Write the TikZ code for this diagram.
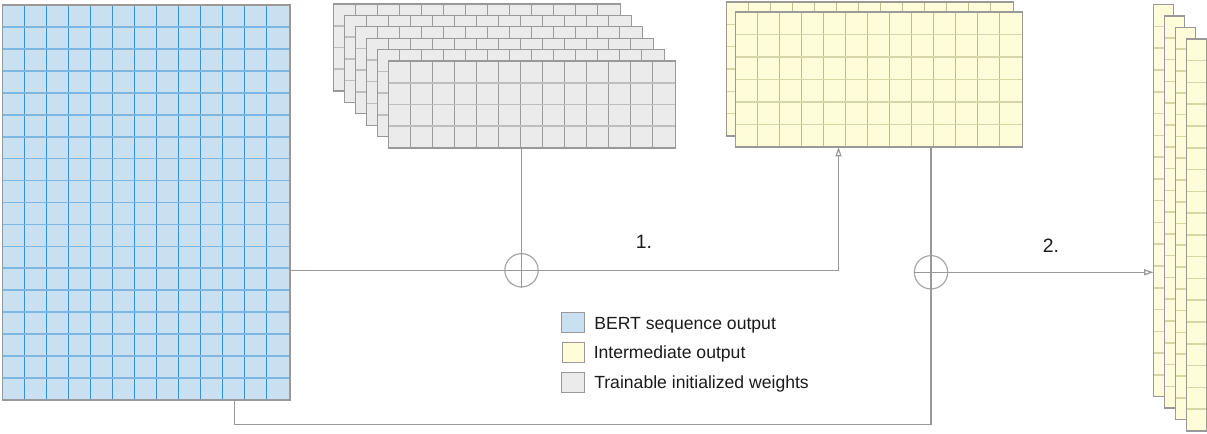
\documentclass[tikz,border=0pt]{standalone}
\usepackage{fontspec}
\setmainfont{Liberation Sans}
\usetikzlibrary{arrows.meta,calc}
\definecolor{bluefill}{HTML}{C9E0F1}
\definecolor{bluevl}{HTML}{3A90D6}
\definecolor{bluehl}{HTML}{7DB6E1}
\definecolor{grayfill}{HTML}{EBEBEB}
\definecolor{grayvl}{HTML}{9C9C9C}
\definecolor{grayhl}{HTML}{BEBEBE}
\definecolor{yelfill}{HTML}{FFFDD9}
\definecolor{yelvl}{HTML}{BDBD8E}
\definecolor{yelhl}{HTML}{D8D6A8}
\definecolor{bordercol}{HTML}{999999}
\definecolor{conncol}{HTML}{999999}
\definecolor{circcol}{HTML}{A6A6A6}
\definecolor{textcol}{HTML}{1A1A1A}
\tikzset{
  panel/.style={anchor=north west, inner sep=0pt, outer sep=0pt, draw=none},
  bluepanel/.style={fill=bluefill},
  bluev/.style={draw=bluevl, line width=0.8pt},
  blueh/.style={draw=bluehl, line width=1.3pt},
  graypanel/.style={fill=grayfill},
  grayv/.style={draw=grayvl, line width=0.8pt},
  grayh/.style={draw=grayhl, line width=1.2pt},
  yelpanel/.style={fill=yelfill},
  yelv/.style={draw=yelvl, line width=0.8pt},
  yelh/.style={draw=yelhl, line width=1.2pt},
  pborder/.style={draw=bordercol, line width=1pt},
  conn/.style={draw=conncol, line width=0.9pt},
  sumnode/.style={circle, draw=circcol, line width=0.9pt, minimum size=25pt, inner sep=0pt},
  arr/.style={-{Triangle[open, length=7pt, width=4.5pt]}},
  legbox/.style={anchor=north west, inner sep=0pt, minimum width=17pt, minimum height=15.5pt, draw=bordercol, line width=0.75pt},
  legtext/.style={anchor=base west, inner sep=0pt, text=textcol, font=\fontsize{13.2}{15}\selectfont},
  numlabel/.style={inner sep=0pt, text=textcol, font=\fontsize{14.5}{16}\selectfont},
}
% #1 name, #2 x, #3 y, #4 w, #5 h, #6 column pitch, #7 ncols, #8 nrows, #9 style prefix
\newcommand{\gridpanel}[9]{%
  \node[panel, #9panel, minimum width=#4*0.75pt, minimum height=#5*0.75pt] (#1) at (#2,#3) {};
  \pgfmathtruncatemacro\gpnc{#7-1}%
  \pgfmathtruncatemacro\gpnr{#8-1}%
  \ifnum\gpnc>0
    \foreach \gpi in {1,...,\gpnc}{\draw[#9v] (#2+\gpi*#6, #3) -- ++(0,#5);}
  \fi
  \ifnum\gpnr>0
    \foreach \gpj in {1,...,\gpnr}{\draw[#9h] (#2, #3+\gpj*#5/#8) -- ++(#4,0);}
  \fi
  \draw[pborder] (#1.north west) rectangle (#1.south east);
}
\begin{document}
\begin{tikzpicture}[x=0.75pt,y=-0.75pt]
\useasboundingbox (0,0) rectangle (1207,434);

% BERT sequence output
\gridpanel{blue}{2.5}{5}{287.5}{395}{22}{13}{18}{blue}

% trainable weights stack
\foreach \k in {0,...,5}{
  \gridpanel{gray\k}{333.5+11*\k}{4+11.4*\k}{287}{87}{22}{13}{4}{gray}
}

% intermediate output stack
\gridpanel{yel0}{726.5}{2}{287}{134}{22}{13}{6}{yel}
\gridpanel{yel1}{735.5}{12}{287}{135}{22}{13}{6}{yel}

% final output columns
\foreach \k in {0,...,3}{
  \gridpanel{col\k}{1153.5+11*\k}{4.7+11.4*\k}{20}{392}{20}{1}{18}{yel}
}

% sum nodes
\node[sumnode] (c1) at (521.5,270.3) {};
\node[sumnode] (c2) at (931,272.3) {};
\draw[conn] (c1.north) -- (c1.south);
\draw[conn] (c2.west) -- (c2.east);

% coordinates for free ends
\coordinate (t1) at (838.5,147);
\coordinate (b1) at (234.5,400);
\coordinate (low) at (931,424.3);

% connectors
\draw[conn] (c1 |- gray5.south) -- (c1.north);
\draw[conn, arr] (blue.east |- c1) -- (c1.center) -- (t1 |- c1) -- (t1);
\draw[conn] (c2 |- yel1.south) -- (c2.north);
\draw[conn] (c2.north) -- (low) -| (b1);
\draw[conn, arr] (c2.east) -- (col0.west |- c2);

% labels
\node[numlabel] (l1) at (644,242) {1.};
\node[numlabel] (l2) at (1051,245.5) {2.};

% legend
\node[legbox, fill=bluefill] (lb1) at (561,311.7) {};
\node[legbox, fill=yelfill] (lb2) at (561.5,341.7) {};
\node[legbox, fill=grayfill] (lb3) at (561,371.7) {};
\node[legtext] (lt1) at (594,329.3) {BERT sequence output};
\node[legtext] (lt2) at (593.5,358.3) {Intermediate output};
\node[legtext] (lt3) at (594,388.3) {Trainable initialized weights};
\end{tikzpicture}
\end{document}
